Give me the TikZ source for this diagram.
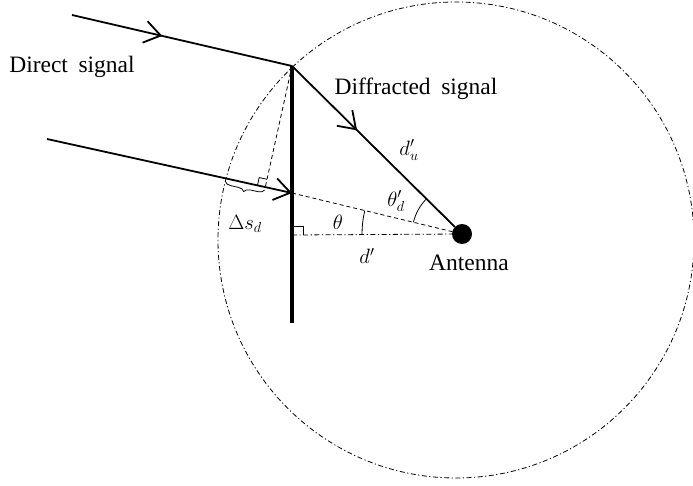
\documentclass[tikz,border=0pt]{standalone}
\usepackage{fontspec}
\setmainfont{Liberation Serif}
\usetikzlibrary{arrows.meta,decorations.markings,decorations.pathreplacing,calc}
\begin{document}
\begin{tikzpicture}[x=1pt,y=-1pt,
  ray/.style={line width=1.8pt},
  barb/.style={-{Straight Barb[length=16pt,width=22pt]}},
  midbarb/.style={postaction={decorate},decoration={markings,
      mark=at position #1 with {\arrow{Straight Barb[length=16pt,width=22pt]}}}},
  thindash/.style={line width=0.8pt,dash pattern=on 4pt off 3pt},
  dashdot/.style={line width=0.8pt,dash pattern=on 5pt off 2.5pt on 1.2pt off 2.5pt},
  txt/.style={font=\fontsize{23.5}{28}\selectfont,inner sep=0pt},
  mth/.style={font=\fontsize{22.5}{27}\selectfont,inner sep=0pt},
  rmark/.style={line width=0.8pt}]
\useasboundingbox (0,0) rectangle (693,486);
% key points
\coordinate (E) at (292,66);
\coordinate (W) at (292,323);
\coordinate (H) at (292,235);
\coordinate (T0) at (72,15);
\coordinate (L0) at (47,139);
\coordinate (L1) at (292,193);
\coordinate (C) at (456,240);
\coordinate (P) at (226,178.5);
\coordinate (F) at ($(L0)!(E)!(L1)$);
\node[circle,fill=black,minimum size=20pt,inner sep=0pt] (ant) at (462,234) {};
% circle
\draw[dashdot] (C) circle (238);
% wall
\draw[line width=3.5pt] (E) -- (W);
% dashed and dash-dot lines
\draw[thindash] (E) -- (F);
\draw[thindash] (L1) -- (ant.center);
\draw[dashdot] (H) -- (ant.center);
% rays
\draw[ray,midbarb=0.41] (T0) -- (E);
\draw[ray,barb] (L0) -- (L1);
\draw[ray,midbarb=0.4] (E) -- (ant);
% right angle at wall
\draw[rmark] ($(H)+(2,-9)$) -- ++(9,0) -- ++(0,9);
% right angle at foot
\coordinate (Fu) at ($(F)!8pt!(P)$);
\coordinate (Fv) at ($(F)!8pt!(E)$);
\coordinate (Fc) at ($(Fu)+(Fv)-(F)$);
\draw[rmark] (Fu) -- (Fc) -- (Fv);
% brace
\draw[line width=0.8pt,decorate,decoration={brace,mirror,amplitude=6pt,raise=3pt}] (P) -- (F);
% angle arcs
\draw[line width=0.8pt] ($(ant.center)+(180:100)$) arc[start angle=180,end angle=193.6,radius=100];
\draw[line width=0.8pt] ($(ant.center)+(193.6:50)$) arc[start angle=193.6,end angle=224.7,radius=50];
% labels
\node[txt] (lds) at (72,67) {Direct\hspace{0.45em}signal};
\node[txt] (ldf) at (416,89) {Diffracted\hspace{0.45em}signal};
\node[txt] (lant) at (469,263) {Antenna};
\node[mth] (ldu) at (409,150) {$d'_u$};
\node[mth] (lthd) at (396,201) {$\theta'_d$};
\node[mth] (lth) at (338,222) {$\theta$};
\node[mth] (ldp) at (367,256) {$d'$};
\node[mth] (lds2) at (245,224) {$\Delta s_d$};
\end{tikzpicture}
\end{document}
